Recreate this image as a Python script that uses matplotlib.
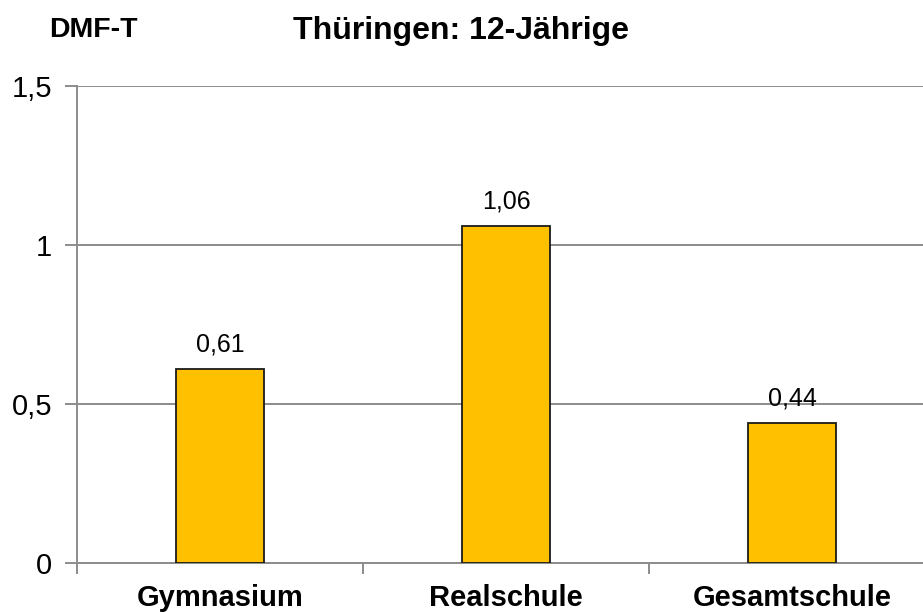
import matplotlib
matplotlib.use("Agg")
import matplotlib.pyplot as plt
from matplotlib.ticker import FixedLocator, FuncFormatter

categories = ["Gymnasium", "Realschule", "Gesamtschule"]
values = [0.61, 1.06, 0.44]
y_ticks = [0, 0.5, 1, 1.5]

plt.rcParams["font.family"] = ["Liberation Sans", "DejaVu Sans"]

fig = plt.figure(figsize=(9.23, 6.12), dpi=100)
ax = fig.add_axes([77 / 923, 49 / 612, 858 / 923, 477 / 612])

x = list(range(len(categories)))
bars = ax.bar(x, values, width=0.31, color="#FFC000", edgecolor="#1a1a1a",
              linewidth=1.3, zorder=3)

for xi, v in zip(x, values):
    ax.annotate(f"{v:.2f}".replace(".", ","), (xi, v), xytext=(0, 9),
                textcoords="offset points", ha="center", va="bottom",
                fontsize=18, color="black")

ax.set_xlim(-0.5, len(categories) - 0.5)
ax.set_ylim(0, 1.5)

ax.yaxis.set_major_locator(FixedLocator(y_ticks))
ax.yaxis.set_major_formatter(FuncFormatter(lambda v, p: f"{v:g}".replace(".", ",")))
ax.grid(axis="y", color="#8c8c8c", linewidth=1.4, zorder=0)

ax.set_xticks([i - 0.5 for i in range(len(categories))], minor=False)
ax.set_xticklabels([])
ax.set_xticks(x, minor=True)
ax.set_xticklabels(categories, minor=True, fontsize=21, fontweight="bold")
ax.tick_params(axis="x", which="minor", length=0, pad=15)
ax.tick_params(axis="x", which="major", length=8, width=1.4, color="#8c8c8c")
ax.tick_params(axis="y", length=9, width=1.4, color="#8c8c8c", labelsize=21, pad=9)

for side in ["top", "right"]:
    ax.spines[side].set_visible(False)
for side in ["left", "bottom"]:
    ax.spines[side].set_color("#8c8c8c")
    ax.spines[side].set_linewidth(1.4)

fig.text(461 / 923, 1 - 31 / 612, "Thüringen: 12-Jährige", ha="center",
         va="center", fontsize=23, fontweight="bold")
fig.text(49 / 923, 1 - 30 / 612, "DMF-T", ha="left", va="center",
         fontsize=20.5, fontweight="bold")

fig.savefig("out.png", dpi=100)
